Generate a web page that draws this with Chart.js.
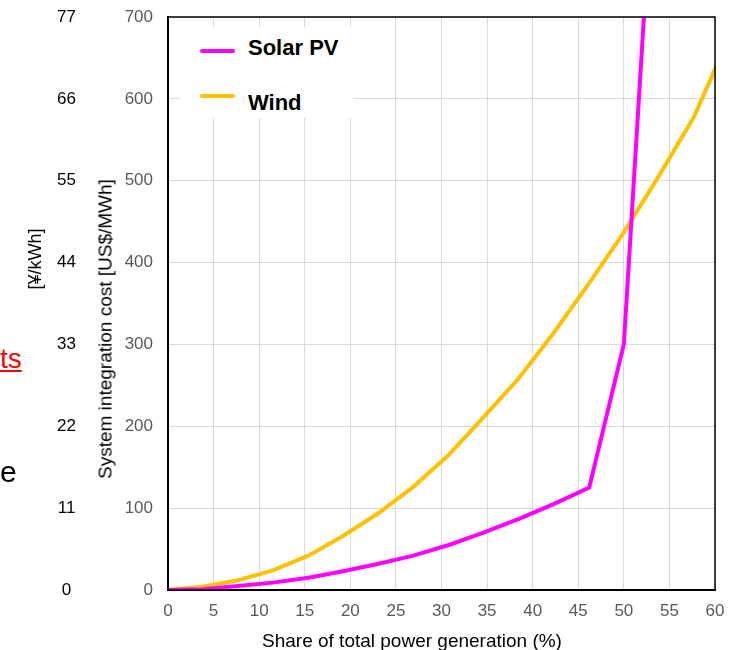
<!DOCTYPE html>
<html>
<head>
<meta charset="utf-8">
<script src="https://cdn.jsdelivr.net/npm/chart.js@4.4.1/dist/chart.umd.min.js"></script>
<style>
  body { margin: 0; background: #fff; font-family: "Liberation Sans", Arial, sans-serif; }
  #wrap { position: relative; width: 741px; height: 650px; overflow: hidden; }
  #chart { position: absolute; left: 0; top: 0; }
  .cut { position: absolute; left: 0; line-height: 1; }
  .vtitle { position: absolute; white-space: nowrap; color: #000; transform: translate(-50%, -50%) rotate(-90deg); line-height: 1; }
  #legend { position: absolute; left: 180px; top: 27px; width: 173px; height: 91px; background: #fff; }
  .swatch { position: absolute; left: 20px; width: 35px; height: 4px; border-radius: 2px; }
  .name { position: absolute; left: 68px; font-weight: bold; font-size: 22px; line-height: 1; color: #000; }
  #xtitle { position: absolute; top: 630px; left: 262px; font-size: 19px; color: #000; white-space: nowrap; }
</style>
</head>
<body>
<div id="wrap">
  <canvas id="chart" width="741" height="650"></canvas>
  <div class="cut" style="top:345px;font-size:28px;color:#ff0000;text-decoration:underline;">ts</div>
  <div class="cut" style="top:457px;font-size:30px;color:#000;">e</div>
  <div class="vtitle" style="left:35px;top:259px;font-size:18px;">[¥/kWh]</div>
  <div class="vtitle" style="left:105px;top:329px;font-size:19px;">System integration cost [US$/MWh]</div>
  <div id="legend"></div>
  <div id="xtitle">Share of total power generation (%)</div>
</div>
<script>
// share of total power generation (%)
const shares = [0, 3.8, 7.7, 11.5, 15.4, 19.2, 23.1, 26.9, 30.8, 34.6, 38.5, 42.3, 46.2, 50, 53.8, 57.7, 61.5];
// system integration cost, US$/MWh
const solarCost = [0, 1, 5, 9, 15, 23, 32, 42, 55, 70, 87, 105, 125, 300, 990];
const windCost = [0, 4, 12, 24, 42, 66, 94, 126, 165, 211, 259, 314, 375, 437, 505, 578, 674];

const shareTicks = [0, 5, 10, 15, 20, 25, 30, 35, 40, 45, 50, 55, 60];
const costTicks = [0, 100, 200, 300, 400, 500, 600, 700];
const yenTicks = [0, 11, 22, 33, 44, 55, 66, 77];

const series = [
    { label: 'Solar PV', values: solarCost, color: '#ff00ff' },
    { label: 'Wind', values: windCost, color: '#ffc000' }
];

const fixTicks = list => scale => { scale.ticks = list.map(v => ({ value: v })); };
const fixWidth = w => scale => {
    scale.width = w;
    scale.paddingTop = 0;
    scale.paddingBottom = 0;
};

// frame round the plot area (top and right edges)
const frame = {
    id: 'frame',
    afterDatasetsDraw(chart) {
        const { ctx, chartArea: a } = chart;
        ctx.save();
        ctx.strokeStyle = '#000';
        ctx.lineWidth = 1.5;
        ctx.strokeRect(a.left, a.top, a.right - a.left, a.bottom - a.top);
        ctx.restore();
    }
};

const ctx = document.getElementById('chart').getContext('2d');
const chart = new Chart(ctx, {
    type: 'scatter',
    data: {
        datasets: series.map(s => ({
            label: s.label,
            data: s.values.map((v, i) => ({ x: shares[i], y: v })),
            showLine: true,
            borderColor: s.color,
            backgroundColor: s.color,
            borderWidth: 4,
            pointRadius: 0,
            tension: 0
        }))
    },
    options: {
        responsive: false,
        animation: false,
        devicePixelRatio: 1,
        layout: { padding: { left: 20, top: 17, right: 26, bottom: 0 } },
        plugins: { legend: { display: false }, tooltip: { enabled: false } },
        scales: {
            x: {
                type: 'linear', min: 0, max: 60,
                afterBuildTicks: fixTicks(shareTicks),
                afterFit: s => { s.height = 60; },
                grid: { color: '#d9d9d9', drawTicks: false },
                border: { color: '#000', width: 2 },
                ticks: { color: '#595959', font: { size: 17, family: 'Liberation Sans' }, padding: 11, maxRotation: 0 }
            },
            y: {
                type: 'linear', position: 'left', min: 0, max: 700, weight: 0,
                afterBuildTicks: fixTicks(costTicks),
                afterFit: fixWidth(79),
                grid: { color: '#d9d9d9', drawTicks: false },
                border: { color: '#000', width: 2 },
                ticks: { color: '#595959', font: { size: 17, family: 'Liberation Sans' }, padding: 15 }
            },
            y2: {
                type: 'linear', position: 'left', min: 0, max: 77, weight: 1,
                afterBuildTicks: fixTicks(yenTicks),
                afterFit: fixWidth(69),
                grid: { display: false, drawTicks: false },
                border: { display: false },
                ticks: { color: '#000', font: { size: 17, family: 'Liberation Sans' }, padding: 13, crossAlign: 'center' }
            }
        }
    },
    plugins: [frame]
});

// legend inside the plot, built from the datasets
const legend = document.getElementById('legend');
chart.data.datasets.forEach((d, i) => {
    const sw = document.createElement('div');
    sw.className = 'swatch';
    sw.style.top = (22 + i * 45) + 'px';
    sw.style.background = d.borderColor;
    const name = document.createElement('div');
    name.className = 'name';
    name.style.top = (10 + i * 55) + 'px';
    name.textContent = d.label;
    legend.appendChild(sw);
    legend.appendChild(name);
});
</script>
</body>
</html>
